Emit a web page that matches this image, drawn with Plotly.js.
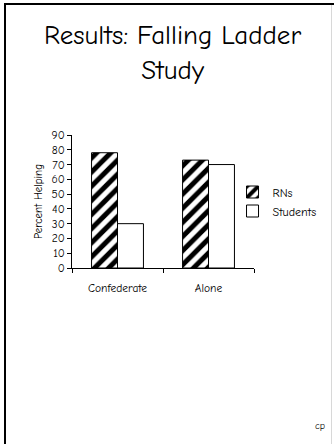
<!DOCTYPE html>
<html>
<head>
<meta charset="utf-8">
<script src="https://cdn.plot.ly/plotly-3.0.1.min.js"></script>
<style>
html,body{margin:0;padding:0;background:#fff;}
#frame{position:absolute;left:0;top:0;width:334px;height:444px;overflow:hidden;}
#bl{position:absolute;left:4px;top:3px;width:2px;height:441px;background:#000;}
#bt{position:absolute;left:4px;top:3px;width:330px;height:2px;background:#000;}
#br{position:absolute;left:331px;top:5px;width:1px;height:439px;background:#d8d8d8;}
#chart{position:absolute;left:0;top:0;width:334px;height:444px;}
</style>
</head>
<body>
<div id="frame">
<div id="chart"></div>
<div id="bl"></div><div id="bt"></div><div id="br"></div>
</div>
<script>
const categories = ["Confederate", "Alone"];
const rnsValues = [78, 73];
const studentValues = [30, 70];
const seriesNames = ["RNs", "Students"];
const yTicks = [0, 10, 20, 30, 40, 50, 60, 70, 80, 90];
const titleText = "Results: Falling Ladder<br>Study";

const FONT = "'Comic Sans MS', 'Comic Neue', 'DejaVu Sans', sans-serif";

const traces = [
  {
    type: "bar", name: seriesNames[0], x: categories, y: rnsValues,
    marker: {
      color: "#ffffff",
      line: {color: "#000", width: 1},
      pattern: {shape: "/", fgcolor: "#000", bgcolor: "#fff", size: 10, solidity: 0.5}
    }
  },
  {
    type: "bar", name: seriesNames[1], x: categories, y: studentValues,
    marker: {color: "#ffffff", line: {color: "#000", width: 1}}
  }
];

const layout = {
  width: 334, height: 444,
  margin: {l: 72, r: 80, t: 135, b: 176, autoexpand: false},
  paper_bgcolor: "#fff", plot_bgcolor: "#fff",
  font: {family: FONT, color: "#000", size: 11.5},
  barmode: "group", bargap: 0.43, bargroupgap: 0,
  xaxis: {
    type: "category", showline: true, linecolor: "#000", linewidth: 1,
    ticks: "outside", ticklen: 4, tickcolor: "#000", tickson: "boundaries",
    showgrid: false, zeroline: false, tickfont: {size: 11.5, family: FONT},
    ticklabelstandoff: 9
  },
  yaxis: {
    range: [0, 90], tickvals: yTicks, showline: true, linecolor: "#000", linewidth: 1,
    ticks: "outside", ticklen: 4, tickcolor: "#000", showgrid: false, zeroline: false,
    tickfont: {size: 11.5, family: FONT},
    title: {text: "Percent Helping", font: {size: 11, family: FONT}, standoff: 6}
  },
  legend: {
    x: 0.882, y: 0.5, xanchor: "left", yanchor: "middle",
    font: {size: 12, family: FONT}, bgcolor: "rgba(0,0,0,0)",
    itemwidth: 30, tracegroupgap: 0
  },
  annotations: [
    {text: titleText, xref: "paper", yref: "paper", x: (172-72)/182, y: (268-53)/133,
     xanchor: "center", yanchor: "middle", showarrow: false, align: "center",
     font: {size: 27, family: FONT}},
    {text: "cp", xref: "paper", yref: "paper", x: (320-72)/182, y: (268-426)/133,
     xanchor: "center", yanchor: "middle", showarrow: false, font: {size: 10, family: FONT}}
  ]
};

Plotly.newPlot("chart", traces, layout, {displayModeBar: false, staticPlot: true});
</script>
</body>
</html>
